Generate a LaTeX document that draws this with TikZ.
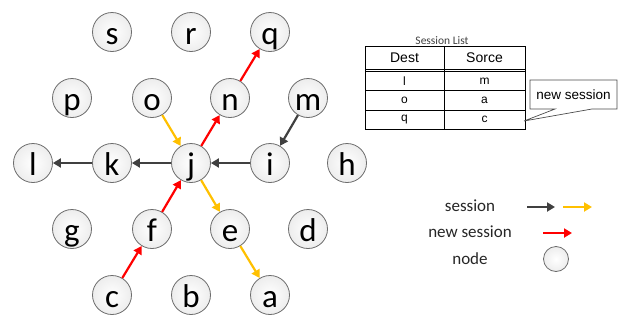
\documentclass[tikz,border=0pt]{standalone}
\usepackage{fontspec}
\setmainfont{Carlito}
\newfontfamily\tabfont{Liberation Sans}
\usetikzlibrary{arrows.meta}
\definecolor{dgray}{HTML}{404040}
\definecolor{ygold}{HTML}{FFC000}
\definecolor{nred}{HTML}{FF0000}
\definecolor{ndfill}{HTML}{EDEDED}
\begin{document}
\begin{tikzpicture}[x=1pt,y=-1pt,
  nd/.style={circle, draw=gray!85!black, line width=0.8pt, inner color=white, outer color=ndfill,
    minimum size=39pt, inner sep=0pt, text height=24pt, text depth=0pt,
    font=\fontsize{33}{33}\selectfont},
  lnd/.style={circle, draw=gray!85!black, line width=0.8pt, inner color=white, outer color=ndfill,
    minimum size=25pt, inner sep=0pt},
  arr/.style={line width=2.2pt, -{Triangle[length=8pt,width=9pt]}},
  sess/.style={arr, dgray},
  ysess/.style={arr, ygold},
  nsess/.style={arr, nred},
  lgtext/.style={anchor=base, font=\fontsize{17}{17}\selectfont, text=black!85},
  tline/.style={line width=0.8pt, black},
  thead/.style={font=\tabfont\fontsize{14}{14}\selectfont},
  tval/.style={font=\tabfont\fontsize{12}{12}\selectfont},
]
\useasboundingbox (0,0) rectangle (619,322);
% nodes
\node[nd] (s) at (112,32) {s};
\node[nd] (r) at (191,32) {r};
\node[nd] (q) at (270,32) {q};
\node[nd] (p) at (72,98) {p};
\node[nd] (o) at (152,98) {o};
\node[nd] (n) at (230,98) {n};
\node[nd] (m) at (308,98) {m};
\node[nd] (l) at (33,163) {l};
\node[nd] (k) at (112,163) {k};
\node[nd] (j) at (191,163) {j};
\node[nd] (i) at (270,163) {i};
\node[nd] (h) at (347,163) {h};
\node[nd] (g) at (72,229) {g};
\node[nd] (f) at (152,229) {f};
\node[nd] (e) at (230,229) {e};
\node[nd] (d) at (308,229) {d};
\node[nd] (c) at (112,295) {c};
\node[nd] (b) at (191,295) {b};
\node[nd] (a) at (270,295) {a};
% sessions
\draw[sess] (m) -- (i);
\draw[sess] (i) -- (j);
\draw[sess] (j) -- (k);
\draw[sess] (k) -- (l);
\draw[ysess] (o) -- (j);
\draw[ysess] (j) -- (e);
\draw[ysess] (e) -- (a);
\draw[nsess] (c) -- (f);
\draw[nsess] (f) -- (j);
\draw[nsess] (j) -- (n);
\draw[nsess] (n) -- (q);
% table
\node[font=\fontsize{11.5}{11.5}\selectfont, text=black!75] (title) at (442,41) {Session List};
\draw[tline] (365,46) rectangle (525,129);
\draw[tline] (365,69) -- (525,69);
\draw[tline] (365,71.5) -- (525,71.5);
\draw[tline] (365,90) -- (525,90);
\draw[tline] (365,110) -- (525,110);
\draw[tline] (444,46) -- (444,129);
\node[thead] (h1) at (404.5,57.5) {Dest};
\node[thead] (h2) at (484.5,57.5) {Sorce};
\node[tval] (v11) at (404.5,81) {l};
\node[tval] (v12) at (484.5,81) {m};
\node[tval] (v21) at (404.5,100) {o};
\node[tval] (v22) at (484.5,100) {a};
\node[tval] (v31) at (404.5,119.5) {q};
\node[tval] (v32) at (484.5,119.5) {c};
% callout
\draw[line width=0.7pt, draw=black!70, fill=white] (530,80) -- (617,80) -- (617,109) -- (592,109) -- (524,121) -- (555,109) -- (530,109) -- cycle;
\node[font=\tabfont\fontsize{13.5}{13.5}\selectfont] (ns) at (573.5,94.5) {new session};
% legend
\node[lgtext] (t1) at (470,211) {session};
\node[lgtext] (t2) at (470,237) {new session};
\node[lgtext] (t3) at (470,264) {node};
\coordinate (a1s) at (527,207); \coordinate (a1e) at (555,207);
\coordinate (a2s) at (563,207); \coordinate (a2e) at (592,207);
\coordinate (a3s) at (543,233); \coordinate (a3e) at (572,233);
\draw[sess] (a1s) -- (a1e);
\draw[ysess] (a2s) -- (a2e);
\draw[nsess] (a3s) -- (a3e);
\node[lnd] (ln) at (556,259) {};
\end{tikzpicture}
\end{document}
